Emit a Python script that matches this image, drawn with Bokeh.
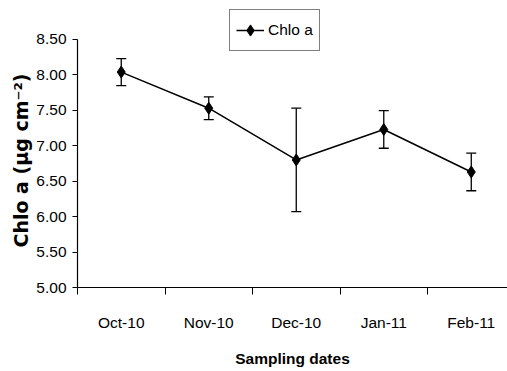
from bokeh.plotting import figure
from bokeh.models import ColumnDataSource, Whisker, TeeHead, FixedTicker, Legend, LegendItem, Range1d
from bokeh.embed import file_html
from bokeh.resources import INLINE

# ---- data ----
dates = ["Oct-10", "Nov-10", "Dec-10", "Jan-11", "Feb-11"]
chlo_a = [8.04, 7.53, 6.80, 7.23, 6.63]
err = [0.19, 0.16, 0.73, 0.265, 0.265]
y_ticks = [5.0, 5.5, 6.0, 6.5, 7.0, 7.5, 8.0, 8.5]

xpos = [i + 0.5 for i in range(len(dates))]
src = ColumnDataSource(dict(
    x=xpos, y=chlo_a,
    upper=[v + e for v, e in zip(chlo_a, err)],
    lower=[v - e for v, e in zip(chlo_a, err)],
))

FONT = "Liberation Sans"

p = figure(width=507, height=371, output_backend="svg", toolbar_location=None,
           x_range=Range1d(0, 4.914), y_range=Range1d(5.0, 9.05),
           min_border_left=77, min_border_right=0, min_border_top=0, min_border_bottom=84)
p.outline_line_color = None
p.xgrid.visible = False
p.ygrid.visible = False

# error bars
wh = Whisker(source=src, base="x", upper="upper", lower="lower",
             line_color="black", line_width=1.3,
             upper_head=TeeHead(size=10, line_color="black", line_width=1.3),
             lower_head=TeeHead(size=10, line_color="black", line_width=1.3))
p.add_layout(wh)

ln = p.line("x", "y", source=src, line_color="black", line_width=1.5)
sc = p.scatter("x", "y", source=src, marker="diamond", size=12, fill_color="black", line_color="black")

# x axis
xa = p.xaxis[0]
xa.ticker = FixedTicker(ticks=xpos, minor_ticks=[0, 1, 2, 3, 4, 5])
xa.major_label_overrides = {x: d for x, d in zip(xpos, dates)}
xa.major_tick_line_color = None
xa.major_tick_out = 0
xa.major_tick_in = 0
xa.minor_tick_out = 7
xa.minor_tick_in = 0
xa.minor_tick_line_color = "black"
xa.axis_line_color = "black"
xa.axis_line_width = 1.2
xa.major_label_standoff = 19
xa.major_label_text_font = FONT
xa.major_label_text_font_size = "15.5px"
xa.major_label_text_color = "black"
xa.axis_label = "Sampling dates"
xa.axis_label_text_font = FONT
xa.axis_label_text_font_style = "bold"
xa.axis_label_text_font_size = "15.5px"
xa.axis_label_text_color = "black"
xa.axis_label_standoff = 16

# y axis
ya = p.yaxis[0]
ya.ticker = FixedTicker(ticks=y_ticks, minor_ticks=[])
ya.bounds = (5.0, 8.5)
ya.major_label_overrides = {t: f"{t:.2f}" for t in y_ticks}
ya.major_tick_out = 5
ya.major_tick_in = 0
ya.major_tick_line_color = "black"
ya.axis_line_color = "black"
ya.axis_line_width = 1.2
ya.major_label_standoff = 6
ya.major_label_text_font = FONT
ya.major_label_text_font_size = "15.5px"
ya.major_label_text_color = "black"
ya.axis_label = "Chlo a (µg cm⁻²)" + "\u00a0" * 5
ya.axis_label_text_font = "DejaVu Sans"
ya.axis_label_text_font_style = "bold"
ya.axis_label_text_font_size = "19px"
ya.axis_label_text_color = "black"
ya.axis_label_standoff = 1

legend = Legend(items=[LegendItem(label="Chlo a", renderers=[ln, sc])],
                location=(152, 236), orientation="vertical",
                border_line_color="black", border_line_width=1,
                background_fill_color="white", background_fill_alpha=1,
                label_text_font=FONT, label_text_font_size="15.5px",
                label_text_color="black",
                glyph_width=28, glyph_height=28, label_standoff=4,
                padding=6, margin=0, spacing=0, label_height=28)
p.add_layout(legend)

open("out.html", "w").write(file_html(p, INLINE))
